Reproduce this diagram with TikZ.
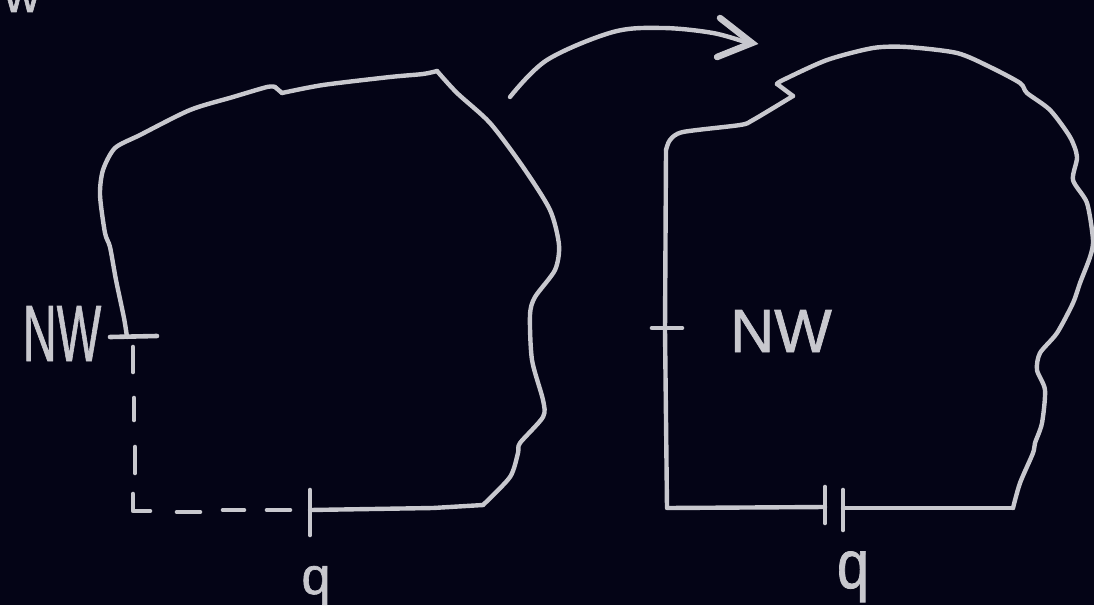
\documentclass[tikz,border=0pt]{standalone}
\usepackage{fontspec}
\setmainfont{Liberation Sans}
\newfontfamily\chalkfont[FakeBold=1.2]{Liberation Sans}
\definecolor{bg}{RGB}{4,4,22}
\definecolor{chalk}{RGB}{200,200,206}
\tikzset{
  chalkline/.style={draw=chalk, line width=4.4pt, line cap=round, line join=round},
  dashseg/.style={chalkline, line width=4.6pt},
  tickline/.style={chalkline, line width=4.6pt},
  lbl/.style={text=chalk, inner sep=0pt, anchor=base, font=\chalkfont},
}
\begin{document}
\begin{tikzpicture}[x=1pt,y=-1pt]
\useasboundingbox[fill=bg] (0,0) rectangle (1094,605);

% partial text at top-left corner
\node[lbl] (wtop) at (22,12) {\fontsize{50}{50}\selectfont w};

% ---------- left shape ----------
\draw[chalkline] plot[smooth, tension=0.45] coordinates {
  (127,337) (124,318) (116,280) (110,247) (105,233) (100,195) (103,170)
  (115,148) (140,135) (190,110) (233,97) (267,87) (275,87)};
\draw[chalkline] (275,87) -- (282,93);
\draw[chalkline] plot[smooth, tension=0.45] coordinates {
  (282,93) (323,85) (390,77) (423,74) (437,71)};
\draw[chalkline] plot[smooth, tension=0.45] coordinates {
  (437,71) (457,93) (490,123) (523,167) (550,210) (559,245) (555,270)
  (535,297) (530,315) (532,360) (543,400) (543,417) (520,443) (518,453)
  (510,477) (483,505)};
\draw[chalkline] (483,505) -- (433,508) -- (310,510);
\draw[tickline] (310,490) -- (310,535);
\draw[tickline] (110,337) -- (157,336);

% dashed part
\draw[dashseg] (133,347) -- (133,372);
\draw[dashseg] (134,398) -- (134,420);
\draw[dashseg] (135,447) -- (135,473);
\draw[dashseg] (133,494) -- (133,511) -- (150,511);
\draw[dashseg] (177,512) -- (200,512);
\draw[dashseg] (223,510) -- (244,510);
\draw[dashseg] (267,510) -- (290,510);

\node[lbl] (nwl) at (62,361) {\scalebox{0.62}[1.05]{\fontsize{76}{76}\selectfont NW}};
\node[lbl] (ql) at (316,594) {\fontsize{52}{52}\selectfont q};

% ---------- arrow ----------
\draw[chalkline] plot[smooth, tension=0.55] coordinates {
  (510,97) (547,60) (613,32) (663,28) (713,33) (748,43)};
\draw[chalkline, line width=6.5pt, line join=miter] (720,18) -- (752,43) -- (717,57);

% ---------- right shape ----------
\draw[chalkline] (825,507) -- (667,508) -- (665,330) -- (666,150);
\draw[chalkline] plot[smooth, tension=0.45] coordinates {
  (666,150) (670,140) (683,132) (740,125) (753,120) (793,96)};
\draw[chalkline] (793,96) -- (777,84);
\draw[chalkline] plot[smooth, tension=0.45] coordinates {
  (777,84) (783,80) (827,60) (873,48) (907,47) (957,53) (990,67) (1020,83)
  (1027,93) (1050,110) (1070,137) (1077,157) (1073,180) (1087,203)
  (1093,240) (1090,257) (1080,283) (1073,303) (1057,333) (1040,353)
  (1037,370) (1045,390) (1042,423) (1035,443) (1033,453) (1020,483)
  (1013,508)};
\draw[chalkline] (1013,508) -- (843,508);
\draw[tickline] (825,487) -- (825,523);
\draw[tickline] (843,490) -- (843,530);
\draw[tickline] (652,328) -- (682,328);

\node[lbl] (nwr) at (781,352) {\fontsize{61}{61}\selectfont NW};
\node[lbl] (qr) at (853,588) {\scalebox{0.85}[1]{\fontsize{68}{68}\selectfont q}};
\end{tikzpicture}
\end{document}
